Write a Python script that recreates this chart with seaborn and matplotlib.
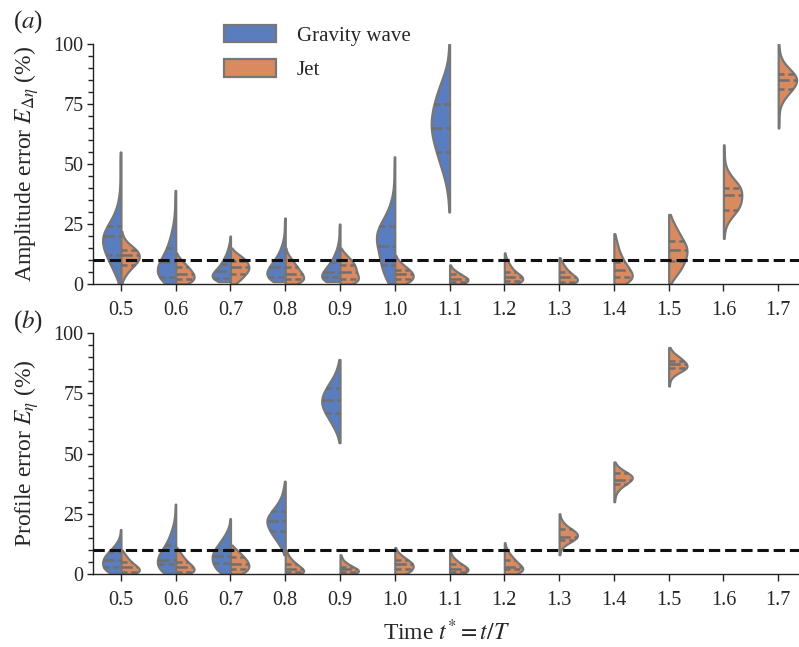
import numpy as np
import pandas as pd
import seaborn as sns
import matplotlib.pyplot as plt
from matplotlib.patches import Patch
from matplotlib.ticker import MultipleLocator

times = ['0.5', '0.6', '0.7', '0.8', '0.9', '1.0', '1.1', '1.2', '1.3', '1.4', '1.5', '1.6', '1.7']
labels = ['Gravity wave', 'Jet']

# error level (%) and how many runs fall there

# (a) amplitude error
amp_gravity = [
    [(0, 1), (4, 6), (8, 11), (12, 16), (16, 20), (20, 22), (24, 15), (28, 8), (32, 4), (36, 2), (40, 1), (44, 1), (48, 1), (52, 1), (55, 1)],
    [(0, 12), (3, 20), (6, 22), (9, 18), (12, 13), (15, 9), (18, 7), (21, 5), (24, 3), (27, 2), (30, 1), (33, 1), (36, 1), (39, 1)],
    [(1, 16), (2.5, 22), (4, 21), (5.5, 17), (7, 13), (8.5, 10), (10, 8), (11.5, 6), (13, 4), (14.5, 3), (16, 2), (17.5, 1), (20, 1)],
    [(1, 17), (3, 21), (5, 22), (7, 18), (9, 14), (11, 10), (13, 7), (15, 5), (17, 3), (19, 2), (21, 1), (23, 1), (25, 1), (27.5, 1)],
    [(1, 20), (3, 22), (5, 18), (7, 14), (9, 10), (11, 7), (13, 5), (15, 3), (17, 2), (19, 1), (21, 1), (23, 1), (25, 1)],
    [(0, 7), (4, 13), (8, 16), (12, 17), (16, 20), (20, 23), (24, 19), (28, 11), (32, 6), (36, 3), (40, 1), (44, 1), (48, 1), (53, 1)],
    [(30, 1), (35, 1), (40, 3), (45, 6), (50, 11), (55, 15), (60, 19), (65, 22), (70, 21), (75, 18), (80, 14), (85, 9), (90, 3), (95, 1), (100, 1)],
]
amp_jet = [
    [(0, 1), (2, 2), (4, 6), (6, 10), (8, 16), (10, 21), (12, 22), (14, 19), (16, 12), (18, 5), (20, 2), (22, 1)],
    [(0, 16), (1, 19), (2, 21), (3, 22), (4, 21), (5, 19), (6, 17), (7, 15), (8, 12), (9, 9), (10, 7), (11, 4), (12, 2), (13, 1)],
    [(0, 6), (1, 9), (2, 12), (3, 15), (4, 17), (5, 20), (6, 22), (7, 22), (8, 21), (9, 20), (10, 18), (11, 15), (12, 11), (13, 7), (14, 3), (15, 1)],
    [(0, 16), (1, 20), (2, 22), (3, 22), (4, 20), (5, 18), (6, 16), (7, 14), (8, 12), (9, 10), (10, 8), (11, 6), (12, 4), (13, 2), (14, 1), (15, 1)],
    [(0, 18), (1, 21), (2, 22), (3, 21), (4, 20), (5, 19), (6, 18), (7, 18), (8, 17), (9, 15), (10, 13), (11, 10), (12, 8), (13, 5), (14, 2), (15, 1)],
    [(0, 14), (1, 18), (2, 21), (3, 22), (4, 22), (5, 20), (6, 17), (7, 14), (8, 10), (9, 7), (10, 4), (11, 2), (12, 1)],
    [(0, 16), (1, 20), (2, 22), (3, 18), (4, 13), (5, 9), (6, 5), (7, 2), (8, 1)],
    [(0, 17), (1, 20), (2, 22), (3, 21), (4, 17), (5, 13), (6, 10), (7, 8), (8, 6), (9, 5), (10, 3), (11, 2), (12, 1), (13, 1)],
    [(0, 18), (1, 21), (2, 22), (3, 19), (4, 15), (5, 12), (6, 9), (7, 7), (8, 5), (9, 4), (10, 2), (11, 1)],
    [(0, 15), (1.5, 20), (3, 22), (4.5, 21), (6, 18), (7.5, 15), (9, 12), (10.5, 10), (12, 8), (13.5, 6), (15, 5), (16.5, 4), (18, 3), (19.5, 2), (21, 1)],
    [(0, 1), (2, 5), (4, 10), (6, 14), (8, 17), (10, 19), (12, 21), (14, 22), (16, 21), (18, 17), (20, 14), (22, 11), (24, 8), (26, 5), (28, 2), (29, 1)],
    [(19, 1), (22, 1), (25, 3), (28, 9), (31, 17), (34, 20), (37, 20), (40, 21), (43, 13), (46, 6), (49, 2), (52, 1), (55, 1), (58, 1)],
    [(65, 1), (67.5, 1), (70, 1), (72.5, 1), (75, 3), (77.5, 7), (80, 13), (82.5, 19), (85, 22), (87.5, 19), (90, 11), (92.5, 5), (95, 2), (97.5, 1), (100, 1)],
]

# (b) profile error
prof_gravity = [
    [(0, 12), (1.5, 19), (3, 21), (4.5, 22), (6, 21), (7.5, 19), (9, 15), (10.5, 11), (12, 7), (13.5, 4), (15, 2), (16.5, 1), (18.5, 1)],
    [(0, 15), (2, 20), (4, 22), (6, 22), (8, 20), (10, 16), (12, 12), (14, 9), (16, 7), (18, 5), (20, 3), (22, 2), (24, 1), (26, 1), (29, 1)],
    [(0, 12), (1.5, 16), (3, 19), (4.5, 21), (6, 22), (7.5, 22), (9, 21), (10.5, 18), (12, 15), (13.5, 12), (15, 9), (16.5, 6), (18, 4), (19.5, 2), (21, 1), (23, 1)],
    [(8, 1), (10, 3), (12, 6), (14, 10), (16, 14), (18, 17), (20, 20), (22, 22), (24, 20), (26, 15), (28, 11), (30, 7), (32, 4), (34, 3), (36, 2), (38.5, 1)],
    [(54.5, 1), (57, 2), (59.5, 5), (62, 9), (64.5, 13), (67, 17), (69.5, 21), (72, 22), (74.5, 20), (77, 16), (79.5, 12), (82, 7), (84.5, 4), (87, 2), (89, 1)],
]
prof_jet = [
    [(0, 18), (1, 21), (2, 22), (3, 19), (4, 15), (5, 12), (6, 9), (7, 7), (8, 5), (9, 3), (10, 1)],
    [(0, 18), (1, 21), (2, 22), (3, 20), (4, 17), (5, 14), (6, 11), (7, 9), (8, 7), (9, 5), (10, 3), (11, 1)],
    [(0, 15), (1, 18), (2, 20), (3, 22), (4, 21), (5, 20), (6, 18), (7, 16), (8, 13), (9, 10), (10, 8), (11, 4), (12, 1)],
    [(0, 20), (1, 22), (2, 20), (3, 17), (4, 13), (5, 10), (6, 7), (7, 5), (8, 3), (9, 2), (10, 1)],
    [(0, 18), (1, 22), (2, 21), (3, 15), (4, 10), (5, 6), (6, 3), (7, 2), (8, 1)],
    [(0, 15), (1, 18), (2, 21), (3, 22), (4, 22), (5, 19), (6, 15), (7, 11), (8, 7), (9, 4), (10, 2), (11, 1)],
    [(0, 17), (1, 20), (2, 22), (3, 19), (4, 14), (5, 10), (6, 7), (7, 4), (8, 2), (9, 1), (10, 1)],
    [(0, 17), (1, 20), (2, 22), (3, 21), (4, 17), (5, 14), (6, 12), (7, 9), (8, 7), (9, 5), (10, 3), (11, 2), (12, 1), (13, 1)],
    [(8, 1), (9.5, 1), (11, 3), (12.5, 8), (14, 16), (15.5, 21), (17, 20), (18.5, 14), (20, 8), (21.5, 4), (23, 2), (25, 1)],
    [(30, 1), (31.5, 1), (33, 2), (34.5, 4), (36, 8), (37.5, 14), (39, 20), (40.5, 22), (42, 15), (43.5, 8), (45, 3), (46.5, 1)],
    [(78, 1), (79.5, 1), (81, 2), (82.5, 6), (84, 13), (85.5, 21), (87, 20), (88.5, 16), (90, 12), (91.5, 6), (93, 2), (94, 1)],
]


def to_long(gravity, jet):
    frames = []
    for name, series in zip(labels, [gravity, jet]):
        for t, pairs in zip(times, series):
            vals, counts = zip(*pairs)
            frames.append(pd.DataFrame({'time': t, 'err': np.repeat(vals, counts), 'type': name}))
    return pd.concat(frames, ignore_index=True)


sns.set_style('ticks')
plt.rcParams['font.family'] = ['Liberation Serif', 'DejaVu Serif']
plt.rcParams['mathtext.fontset'] = 'stix'

palette = sns.color_palette('muted', 2)
edge = '#777777'

fig = plt.figure(figsize=(7.99, 6.47), dpi=100)
ax1 = fig.add_axes([0.1164, 0.561, 0.8836, 0.371])
ax2 = fig.add_axes([0.1164, 0.1128, 0.8836, 0.3725])

panels = [
    (ax1, to_long(amp_gravity, amp_jet), r'Amplitude error $E_{\Delta\eta}$ (%)'),
    (ax2, to_long(prof_gravity, prof_jet), r'Profile error $E_{\eta}$ (%)'),
]

for ax, df, ylab in panels:
    sns.violinplot(data=df, x='time', y='err', hue='type', order=times,
                   hue_order=labels, split=True, inner='quart', cut=0,
                   density_norm='width', palette=palette, linecolor=edge,
                   linewidth=1.6, width=0.67, ax=ax, legend=False)
    # old-style quartile dashes: short for quartiles, long for the median
    for i, ln in enumerate(ax.lines):
        ln.set_color('#6f6f6f')
        ln.set_linewidth(1.8)
        ln.set_dashes((4.5, 1.5) if i % 3 == 1 else (2.4, 1.5))
    ax.axhline(10, color='#111111', ls='--', lw=2.2, zorder=5)
    ax.set_xlim(-0.51, 12.38)
    ax.set_ylim(0, 100)
    ax.set_yticks([0, 25, 50, 75, 100])
    ax.yaxis.set_minor_locator(MultipleLocator(5))
    ax.tick_params(axis='both', labelsize=14.5, direction='out', color='#222222')
    ax.tick_params(axis='y', which='major', length=4, width=1, pad=3)
    ax.tick_params(axis='y', which='minor', length=3.5, width=1)
    ax.tick_params(axis='x', length=5, width=1, pad=7)
    ax.set_ylabel(ylab, fontsize=17, labelpad=9)
    ax.set_xlabel('')
    sns.despine(ax=ax)
    ax.spines['left'].set_bounds(0, 100)
    for s in ['left', 'bottom']:
        ax.spines[s].set_color('#222222')
        ax.spines[s].set_linewidth(1)

ax2.set_xlabel(r'Time $t^{*}=t/T$', fontsize=17, labelpad=7)

fig.text(0.016, 0.967, r'($a$)', fontsize=18, va='center')
fig.text(0.016, 0.503, r'($b$)', fontsize=18, va='center')

handles = [Patch(facecolor=sns.desaturate(c, 0.75), edgecolor=edge, linewidth=1.6)
           for c in palette]
fig.legend(handles, labels, loc='upper left', bbox_to_anchor=(0.27, 0.975),
           frameon=False, fontsize=15, handlelength=2.5, handleheight=0.95,
           labelspacing=0.65, handletextpad=1.0, borderaxespad=0)

fig.savefig('out.png', dpi=100)
